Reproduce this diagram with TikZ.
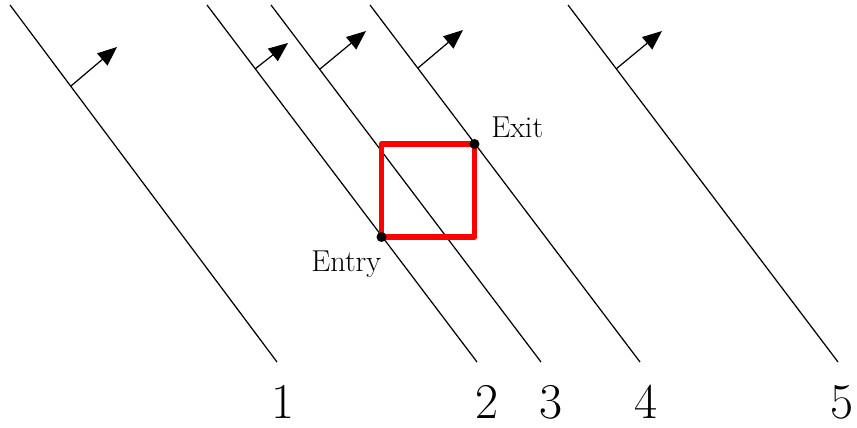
\documentclass[tikz,border=0pt]{standalone}
\usepackage{tikz}
\usetikzlibrary{arrows.meta,positioning}
\tikzset{
  wave/.style={draw, line width=0.7pt},
  nrm/.style={-{Triangle[length=11pt,width=9pt]}, line width=0.7pt},
  box/.style={draw=red, line width=3.3pt, line join=round},
  dot/.style={circle, fill=black, inner sep=0pt, minimum size=2mm},
  lbl/.style={inner sep=0pt, font=\fontsize{17.2}{20}\selectfont},
  num/.style={inner sep=0pt, font=\fontsize{28.5}{32}\selectfont}
}

\begin{document}
\begin{tikzpicture}[x=0.02cm, y=-0.02cm]
\useasboundingbox (0,0) rectangle (857,428);
% wavefronts
\coordinate (t1) at (10,5);  \coordinate (b1) at (277,362);
\coordinate (t2) at (207,5); \coordinate (b2) at (477,362);
\coordinate (t3) at (271,5); \coordinate (b3) at (541,362);
\coordinate (t4) at (370,5); \coordinate (b4) at (640,362);
\coordinate (t5) at (568,5); \coordinate (b5) at (838,362);
\draw[wave] (t1) -- (b1); \draw[wave] (t2) -- (b2); \draw[wave] (t3) -- (b3);
\draw[wave] (t4) -- (b4); \draw[wave] (t5) -- (b5);
% normals
\coordinate (n1) at (71,86);  \coordinate (m1) at (117,47);
\coordinate (n2) at (255,69); \coordinate (m2) at (288,43);
\coordinate (n3) at (320,69); \coordinate (m3) at (366,31);
\coordinate (n4) at (418,68); \coordinate (m4) at (463,30);
\coordinate (n5) at (616,69); \coordinate (m5) at (662,31);
\draw[nrm] (n1) -- (m1); \draw[nrm] (n2) -- (m2); \draw[nrm] (n3) -- (m3);
\draw[nrm] (n4) -- (m4); \draw[nrm] (n5) -- (m5);
% cell
\coordinate (en) at (381.5,237); \coordinate (ex) at (474.5,144);
\draw[box] (en) rectangle (ex);
\node[dot] (entry) at (en) {}; \node[dot] (exit) at (ex) {};
\node[lbl, anchor=base west] (entrylbl) at (311,272) {Entry};
\node[lbl, anchor=base west] (exitlbl) at (491,138) {Exit};
% indices
\node[num] (l1) at (283,402) {1}; \node[num] (l2) at (487,402) {2};
\node[num] (l3) at (551,402) {3}; \node[num] (l4) at (646,402) {4};
\node[num] (l5) at (842,402) {5};
\end{tikzpicture}
\end{document}
